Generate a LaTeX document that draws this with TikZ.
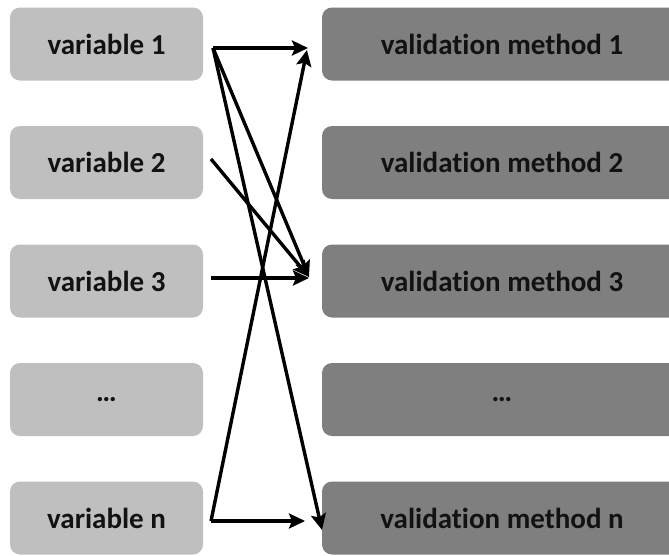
\documentclass[tikz,border=0pt]{standalone}
\usepackage{fontspec}
\setmainfont[Ligatures=NoCommon]{Carlito}
\usetikzlibrary{arrows.meta}
\begin{document}
\begin{tikzpicture}[x=1pt,y=-1pt,
  txt/.style={font=\fontsize{29}{34}\selectfont\bfseries,text=black!93},
  lbox/.style={txt,draw=none,fill=lgrey,rounded corners=10pt,minimum width=193pt,minimum height=73pt,inner sep=0pt},
  rbox/.style={draw=none,fill=dgrey,rounded corners=10pt,minimum width=380pt,minimum height=73pt,inner sep=0pt},
  conn/.style={line width=3.4pt,-{Stealth[length=16pt,width=15pt,inset=3pt]}}]
\definecolor{lgrey}{HTML}{BFBFBF}
\definecolor{dgrey}{HTML}{7F7F7F}
\clip (0,0) rectangle (669,555);
\fill[white] (0,0) rectangle (669,555);
\node[lbox] (v1) at (106.5,44) {variable 1};
\node[lbox] (v2) at (106.5,162.5) {variable 2};
\node[lbox] (v3) at (106.5,281) {variable 3};
\node[lbox] (v4) at (106.5,399.5) {…};
\node[lbox] (vn) at (106.5,518) {variable n};
\node[rbox] (m1) at (512,44) {};
\node[rbox] (m2) at (512,162.5) {};
\node[rbox] (m3) at (512,281) {};
\node[rbox] (m4) at (512,399.5) {};
\node[rbox] (mn) at (512,518) {};
\node[txt] (t1) at (502,44) {validation method 1};
\node[txt] (t2) at (502,162.5) {validation method 2};
\node[txt] (t3) at (502,281) {validation method 3};
\node[txt] (t4) at (502,399.5) {…};
\node[txt] (tn) at (502,518) {validation method n};
\coordinate (s1) at (213,48);
\coordinate (s2) at (211,159);
\coordinate (s3) at (211,278);
\coordinate (sn) at (211,521);
\coordinate (e1) at (308,48);
\coordinate (e1b) at (307,50);
\coordinate (e3) at (309,277);
\coordinate (e3b) at (309,278);
\coordinate (en) at (305,521);
\coordinate (enb) at (322,530);
\draw[conn] (s1) -- (e1);
\draw[conn] (s1) -- (e3);
\draw[conn] (s1) -- (enb);
\draw[conn] (s2) -- (e3);
\draw[conn] (s3) -- (e3b);
\draw[conn] (sn) -- (en);
\draw[conn] (sn) -- (e1b);
\end{tikzpicture}
\end{document}
